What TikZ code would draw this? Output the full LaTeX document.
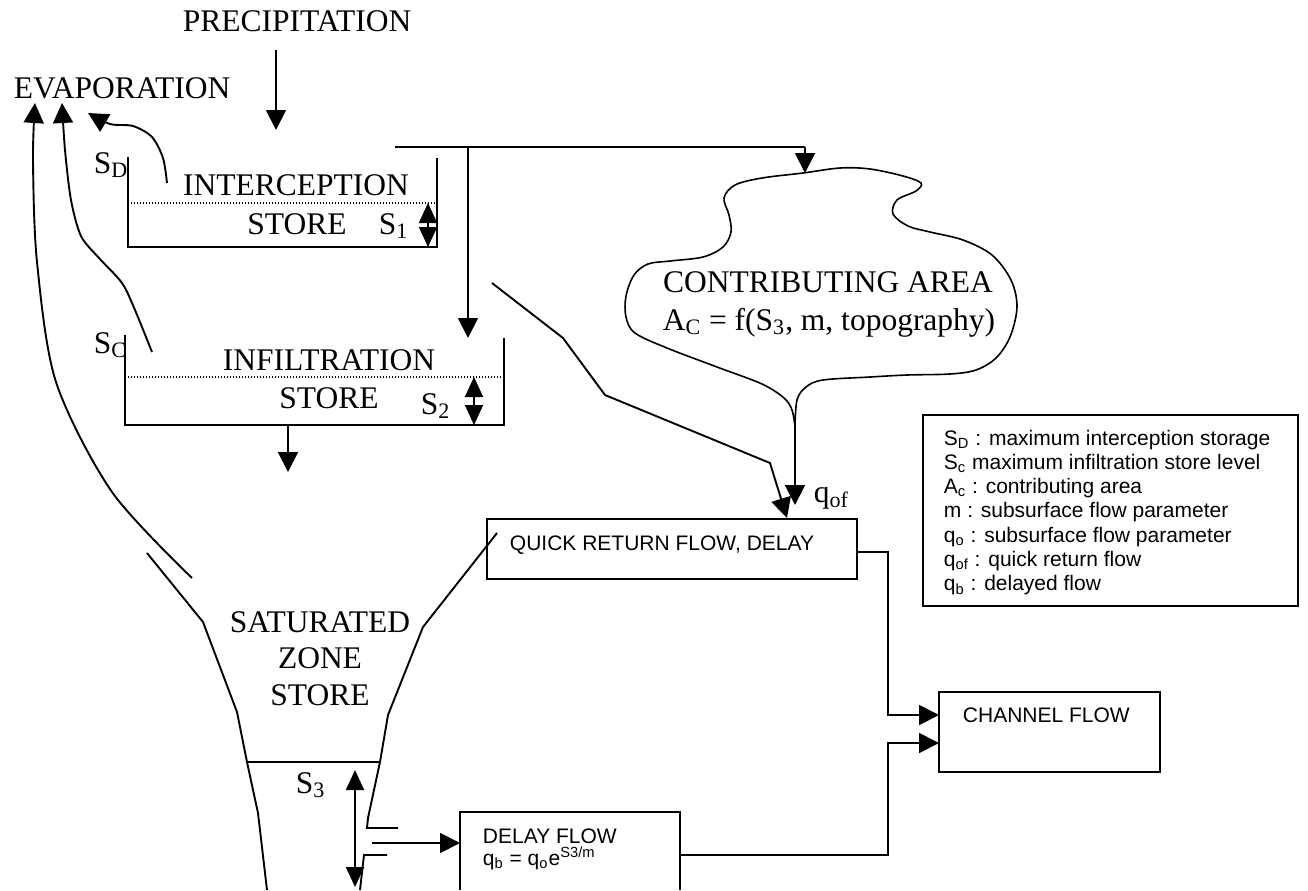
\documentclass[tikz,border=0pt]{standalone}
\usepackage{fontspec}
\setmainfont{Liberation Serif}
\newfontfamily\arialf{Liberation Sans}
\usetikzlibrary{arrows.meta}
\begin{document}
\begin{tikzpicture}[x=0.5pt,y=-0.5pt,
 line width=0.95pt,
 tip/.style={-{Triangle[length=10pt,width=10pt]}},
 dbl/.style={{Triangle[length=10pt,width=9pt]}-{Triangle[length=10pt,width=9pt]}},
 tt/.style={inner sep=0pt,anchor=base west,font=\fontsize{15.75pt}{18pt}\selectfont},
 ttc/.style={tt,anchor=base},
 aa/.style={inner sep=0pt,anchor=base west,font=\arialf\fontsize{10.5pt}{12pt}\selectfont},
 box/.style={draw,line width=0.8pt,inner sep=0pt},
 dots/.style={line width=0.6pt,dash pattern=on 0.6pt off 0.9pt}]
\useasboundingbox (0,0) rectangle (1308,890);

% texts
\node[ttc] (prec) at (297,31) {PRECIPITATION};
\node[tt] (evap) at (13,98) {EVAPORATION};
\node[tt] (sd) at (93,173) {S\textsubscript{D}};
\node[ttc] (icpt) at (296,195) {INTERCEPTION};
\node[ttc] (icst) at (297,234) {STORE};
\node[tt] (s1) at (378,234) {S\textsubscript{1}};
\node[tt] (sc) at (93,353) {S\textsubscript{C}};
\node[ttc] (infl) at (329,370) {INFILTRATION};
\node[ttc] (infs) at (329,408) {STORE};
\node[tt] (s2) at (420,414) {S\textsubscript{2}};
\node[ttc] (sat1) at (320,632) {SATURATED};
\node[ttc] (sat2) at (320,668) {ZONE};
\node[ttc] (sat3) at (320,705) {STORE};
\node[tt] (s3) at (295,793) {S\textsubscript{3}};
\node[ttc] (ca1) at (828,292) {CONTRIBUTING AREA};
\node[ttc] (ca2) at (829,330) {A\textsubscript{C} = f(S\textsubscript{3}, m, topography)};
\node[tt] (qof) at (813,502) {q\textsubscript{of}};

% coordinates
\coordinate (pstart) at (276,50);
\coordinate (pend) at (276,130);
\coordinate (h0) at (395,147);
\coordinate (hj) at (468,147);
\coordinate (h1) at (805,147);
\coordinate (ctop) at (805,173);
\coordinate (inftop) at (468,338);
\coordinate (cusp) at (795,427);
\coordinate (qin) at (795,505);
\coordinate (dgend) at (787,518);

% precipitation
\draw[tip] (pstart) -- (pend);
\draw (h0) -- (h1);
\draw[tip] (h1) -- (ctop);
\draw[tip] (hj) -- (inftop);

% interception store
\draw (128,157) -- (128,247) -- (437,247) -- (437,158);
\draw[dots] (128,203) -- (437,203);
\draw[dbl] (428,203) -- (428,247);

% infiltration store
\draw (125,335) -- (125,425) -- (504,425) -- (504,338);
\draw[dots] (125,377) -- (504,377);
\draw[dbl] (474,377) -- (474,425);
\draw[tip] (288,425) -- (288,472);

% evaporation arrows
\draw[tip] plot[smooth] coordinates {(167,183) (163,158) (152,137) (133,126) (110,124) (88,113)};
\draw[tip] plot[smooth] coordinates {(152,352) (135,310) (122,283) (99,258) (81,236) (71,200) (65,150) (62,103)};
\draw[tip] plot[smooth] coordinates {(192,578) (112,492) (56,382) (37,262) (33,160) (35,103)};

% contributing area cloud
\draw[line width=0.8pt] plot[smooth,tension=0.55] coordinates {(795,427) (797,400) (806,387) (823,380) (870,377) (907,375) (950,374) (976,370) (996,358) (1010,337) (1017,307) (1011,280) (992,255) (963,240) (930,232) (908,226) (893,214) (897,200) (916,191) (921,183) (903,176) (870,169) (840,168) (803,173) (762,178) (735,185) (724,198) (729,215) (731,232) (723,247) (703,257) (670,261) (648,264) (634,275) (626,296) (626,317) (635,333) (667,348) (717,367) (762,384) (784,398) (792,410) (795,427)};
\draw[tip] (cusp) -- (qin);

% diagonal overland path
\draw[tip] (492,283) -- (563,338) -- (605,395) -- (770,463) -- (dgend);

% quick return box
\node[box,minimum width=185pt,minimum height=30pt] (qr) at (672,549) {};
\node[aa] (qrt) at (509,550) {QUICK RETURN FLOW, DELAY};

% channel flow
\node[box,minimum width=110.5pt,minimum height=40pt] (ch) at (1049.5,732) {};
\node[aa] (cht) at (962,722) {CHANNEL FLOW};

% legend
\node[box,minimum width=187.5pt,minimum height=95.5pt] (leg) at (1110.5,510.5) {};
\node[aa] at (943,445) {S\textsubscript{D} : maximum interception storage};
\node[aa] at (943,469.3) {S\textsubscript{c} maximum infiltration store level};
\node[aa] at (943,493.6) {A\textsubscript{c} : contributing area};
\node[aa] at (943,517.9) {m : subsurface flow parameter};
\node[aa] at (943,542.2) {q\textsubscript{o} : subsurface flow parameter};
\node[aa] at (943,566.5) {q\textsubscript{of} : quick return flow};
\node[aa] at (943,590.8) {q\textsubscript{b} : delayed flow};

% saturated zone funnel
\draw (147,553) -- (203,622) -- (237,712) -- (247,762) -- (258,813) -- (267,890);
\draw (497,533) -- (423,627) -- (388,715) -- (380,762) -- (368,818) -- (367,828) -- (398,828);
\draw (387,855) -- (364,855) -- (360,890);
\draw (247,762) -- (380,762);
\draw[dbl] (355,770) -- (355,887);

% delay flow box
\draw[line width=0.8pt] (460,890) -- (460,812) -- (680,812) -- (680,890);
\coordinate (dfin) at (460,843);
\draw[tip] (372,843) -- (dfin);
\node[aa] (dft) at (482,843) {DELAY FLOW};
\node[aa] (dfe) at (482,865) {q\textsubscript{b} = q\textsubscript{o}e\textsuperscript{S3/m}};

% to channel
\draw[tip] (857,552) -- (888,552) -- (888,715) -- (939,715);
\draw[tip] (680,855) -- (888,855) -- (888,743) -- (939,743);
\end{tikzpicture}
\end{document}
